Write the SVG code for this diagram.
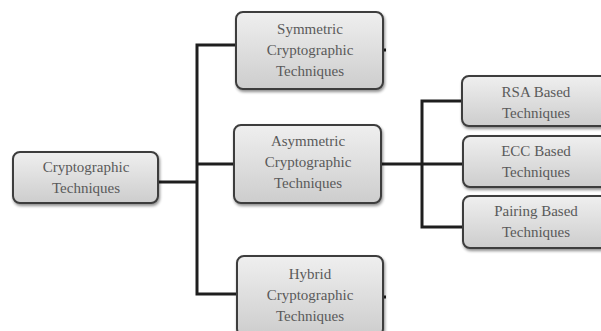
<svg xmlns="http://www.w3.org/2000/svg" width="601" height="331" viewBox="0 0 601 331">
  <defs>
    <linearGradient id="boxFill" x1="0" y1="0" x2="0" y2="1">
      <stop offset="0" stop-color="#efefef"/>
      <stop offset="1" stop-color="#cdcdcd"/>
    </linearGradient>
    <filter id="shadow" x="-10%" y="-10%" width="130%" height="140%">
      <feGaussianBlur in="SourceAlpha" stdDeviation="1.5"/>
      <feOffset dx="1" dy="2" result="b"/>
      <feComponentTransfer><feFuncA type="linear" slope="0.45"/></feComponentTransfer>
      <feMerge><feMergeNode/><feMergeNode in="SourceGraphic"/></feMerge>
    </filter>
    <style>
      .box { fill: url(#boxFill); stroke: #3c3c3c; stroke-width: 2; filter: url(#shadow); }
      .lbl { font-family: "Liberation Serif", "Times New Roman", serif; font-size: 15px; fill: #5a5a5a; text-anchor: middle; }
      .wire { fill: none; stroke: #1e1e1e; stroke-width: 3; }
    </style>
  </defs>
  <rect width="601" height="331" fill="#ffffff"/>

  <g id="connectors">
    <path class="wire" d="M158,182 H197"/>
    <path class="wire" d="M236,45 H197 V294 H237"/>
    <path class="wire" d="M197,164 H235"/>
    <path class="wire" d="M380,164 H463"/>
    <path class="wire" d="M462,101 H422 V227 H463"/>
    <path class="wire" d="M382,50 H386"/>
    <path class="wire" d="M382,297 H386"/>
  </g>

  <g id="crypto">
    <rect class="box" x="13" y="152" width="145" height="51" rx="7"/>
    <text class="lbl" x="86" y="172">Cryptographic</text>
    <text class="lbl" x="86" y="193">Techniques</text>
  </g>

  <g id="symmetric">
    <rect class="box" x="236" y="12" width="147" height="77" rx="7"/>
    <text class="lbl" x="310" y="34">Symmetric</text>
    <text class="lbl" x="310" y="55">Cryptographic</text>
    <text class="lbl" x="310" y="76">Techniques</text>
  </g>

  <g id="asymmetric">
    <rect class="box" x="234" y="125" width="147" height="78" rx="7"/>
    <text class="lbl" x="308" y="146">Asymmetric</text>
    <text class="lbl" x="308" y="167">Cryptographic</text>
    <text class="lbl" x="308" y="188">Techniques</text>
  </g>

  <g id="hybrid">
    <rect class="box" x="237" y="256" width="146" height="80" rx="7"/>
    <text class="lbl" x="310" y="279">Hybrid</text>
    <text class="lbl" x="310" y="300">Cryptographic</text>
    <text class="lbl" x="310" y="321">Techniques</text>
  </g>

  <g id="rsa">
    <rect class="box" x="462" y="76" width="150" height="50" rx="7"/>
    <text class="lbl" x="536" y="97">RSA Based</text>
    <text class="lbl" x="536" y="118">Techniques</text>
  </g>

  <g id="ecc">
    <rect class="box" x="463" y="136" width="150" height="51" rx="7"/>
    <text class="lbl" x="536" y="156">ECC Based</text>
    <text class="lbl" x="536" y="177">Techniques</text>
  </g>

  <g id="pairing">
    <rect class="box" x="463" y="196" width="150" height="52" rx="7"/>
    <text class="lbl" x="536" y="216">Pairing Based</text>
    <text class="lbl" x="536" y="237">Techniques</text>
  </g>
</svg>
